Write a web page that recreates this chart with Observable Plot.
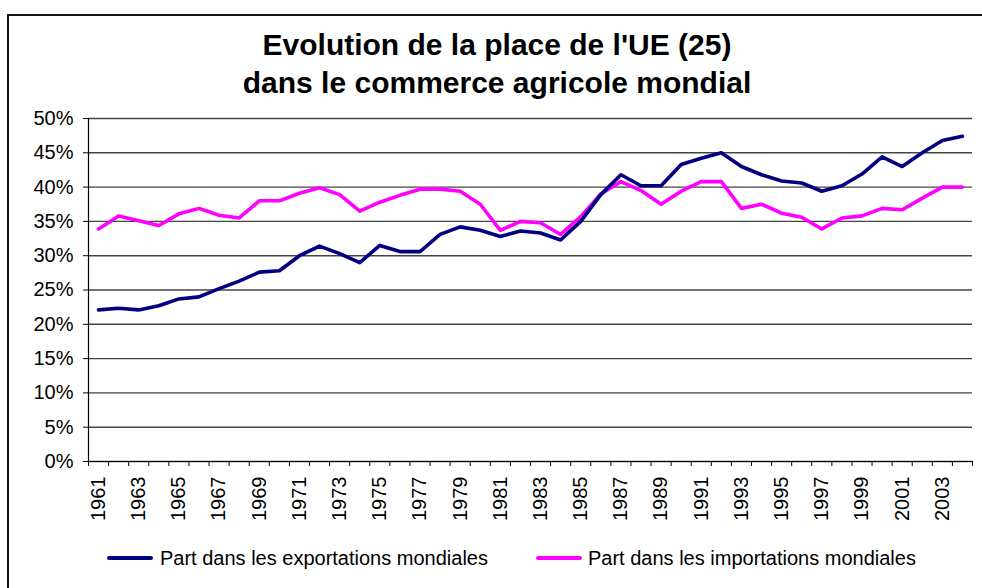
<!DOCTYPE html>
<html>
<head>
<meta charset="utf-8">
<script src="https://cdn.jsdelivr.net/npm/d3@7"></script>
<script src="https://cdn.jsdelivr.net/npm/@observablehq/plot@0.6"></script>
<style>
  html, body { margin: 0; padding: 0; background: #fff; }
  #wrap { position: relative; width: 982px; height: 588px; overflow: hidden; background: #fff; font-family: "Liberation Sans", Arial, sans-serif; color: #000; }
  #frame { position: absolute; left: 7px; top: 14px; width: 1000px; height: 600px; border-left: 2px solid #111; border-top: 2px solid #111; }
  #title { position: absolute; left: 8px; width: 978px; top: 26px; text-align: center; font-weight: bold; font-size: 30px; line-height: 38px; }
  #chart { position: absolute; left: 0; top: 100px; }
  .leg { position: absolute; font-size: 20px; line-height: 24px; top: 546px; white-space: nowrap; }
  .sw { position: absolute; height: 4px; top: 556px; width: 46px; border-radius: 2px; }
</style>
</head>
<body>
<div id="wrap">
  <div id="frame"></div>
  <div id="title">Evolution de la place de l'UE (25)<br>dans le commerce agricole mondial</div>
  <div id="chart"></div>
  <div class="sw" id="sw1" style="left:107px;"></div>
  <div class="leg" id="lg1" style="left:160px;"></div>
  <div class="sw" id="sw2" style="left:536px;"></div>
  <div class="leg" id="lg2" style="left:588px;"></div>
</div>
<script>
const years = d3.range(1961, 2005);
const exportsShare = [22.1, 22.35, 22.1, 22.7, 23.7, 24.0, 25.2, 26.3, 27.6, 27.8,
  30.0, 31.4, 30.3, 29.0, 31.5, 30.6, 30.6, 33.1, 34.2, 33.7,
  32.8, 33.6, 33.3, 32.3, 35.0, 38.9, 41.8, 40.2, 40.2, 43.3,
  44.2, 45.0, 43.0, 41.8, 40.9, 40.6, 39.4, 40.2, 41.9, 44.4,
  43.0, 45.0, 46.8, 47.4];
const importsShare = [33.9, 35.8, 35.1, 34.4, 36.1, 36.9, 35.9, 35.5, 38.0, 38.0,
  39.1, 39.9, 38.9, 36.5, 37.8, 38.8, 39.7, 39.7, 39.4, 37.5,
  33.7, 35.0, 34.8, 33.1, 35.7, 39.0, 40.8, 39.5, 37.5, 39.4,
  40.8, 40.8, 36.9, 37.5, 36.2, 35.6, 33.9, 35.5, 35.8, 36.9,
  36.7, 38.4, 40.0, 40.0];
const seriesNames = ["Part dans les exportations mondiales", "Part dans les importations mondiales"];
const seriesColors = ["#000080", "#FF00FF"];
const yTicks = d3.range(0, 51, 5);
const xLabelYears = d3.range(1961, 2004, 2);
const xTickBounds = d3.range(1960.5, 2005, 1);

const rows = years.map((y, i) => ({year: y, exp: exportsShare[i], imp: importsShare[i]}));

const chart = Plot.plot({
  width: 982,
  height: 440,
  marginTop: 18,
  marginBottom: 79,
  marginLeft: 88,
  marginRight: 10,
  style: {fontFamily: "'Liberation Sans', Arial, sans-serif", background: "transparent", color: "#000"},
  x: {domain: [1960.5, 2004.5], axis: null},
  y: {domain: [0, 50], axis: null},
  marks: [
    Plot.gridY(yTicks, {stroke: "#444", strokeOpacity: 1, strokeWidth: 1.4}),
    Plot.axisY({ticks: yTicks, tickFormat: d => d + "%", tickSize: 5, tickPadding: 10, fontSize: 20, label: null, stroke: "#000", fill: "#000"}),
    Plot.axisX({ticks: xTickBounds, tickFormat: () => "", tickSize: 5, label: null, stroke: "#000"}),
    Plot.ruleX([1960.5], {stroke: "#000", strokeWidth: 1.2}),
    Plot.ruleY([0], {stroke: "#000", strokeWidth: 1.2}),
    Plot.text(xLabelYears, {x: d => d, text: d => String(d), frameAnchor: "bottom", rotate: -90, textAnchor: "end", lineAnchor: "middle", dy: 15, fontSize: 20, fill: "#000"}),
    Plot.line(rows, {x: "year", y: "imp", stroke: seriesColors[1], strokeWidth: 3.6, strokeLinejoin: "round"}),
    Plot.line(rows, {x: "year", y: "exp", stroke: seriesColors[0], strokeWidth: 3.6, strokeLinejoin: "round"})
  ]
});
document.getElementById("chart").appendChild(chart);
document.getElementById("sw1").style.background = seriesColors[0];
document.getElementById("sw2").style.background = seriesColors[1];
document.getElementById("lg1").textContent = seriesNames[0];
document.getElementById("lg2").textContent = seriesNames[1];
</script>
</body>
</html>
